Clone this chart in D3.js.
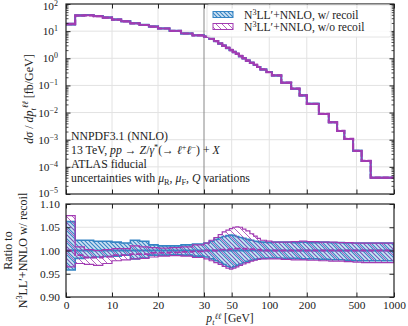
<!DOCTYPE html>
<html>
<head>
<meta charset="utf-8">
<script src="https://cdn.jsdelivr.net/npm/d3@7"></script>
<style>
  body { margin: 0; background: #fff; }
  svg text { font-family: "Liberation Serif", "DejaVu Serif", serif; fill: #222; }
</style>
</head>
<body>
<svg id="chart" width="408" height="326"></svg>
<script>
// bin edges in pT (GeV); the last bin is cut at 1000
const edges = [0, 2, 4, 6, 8, 10, 12, 14, 16, 18, 20, 22.5, 25, 27.5, 30, 33, 36, 39, 42, 45,
  48, 51, 54, 57, 61, 65, 70, 75, 80, 85, 95, 105, 125, 150, 175, 200, 250, 300, 350, 400,
  470, 550, 650, 1000];

// dsigma/dpT, w/ recoil (fb/GeV)
const xsecRecoil = [18, 38, 39, 36, 32, 27, 23, 19.5, 17, 14.8, 12.6, 10.3, 8.2, 7.0,
  6.3, 5.2, 4.3, 3.5, 2.9, 2.4, 2.0, 1.7, 1.45, 1.2, 1.0, 0.82, 0.68, 0.57, 0.48, 0.39,
  0.31, 0.234, 0.126, 0.076, 0.043, 0.021, 0.0089, 0.0044, 0.0021, 0.00107, 3.9e-4,
  1.66e-4, 4e-5];

// ratio to w/ recoil: band of w/ recoil
const recoilLo = [0.958, 0.983, 0.985, 0.986, 0.987, 0.988, 0.990, 0.982, 0.984, 0.990,
  0.990, 0.991, 0.990, 0.988, 0.986, 0.982, 0.978, 0.974, 0.970, 0.966, 0.963, 0.965,
  0.968, 0.971, 0.974, 0.977, 0.979, 0.981, 0.982, 0.983, 0.984, 0.984, 0.983, 0.983,
  0.982, 0.982, 0.981, 0.980, 0.980, 0.979, 0.978, 0.978, 0.978];
const recoilHi = [1.062, 1.022, 1.022, 1.020, 1.020, 1.018, 1.016, 1.022, 1.020, 1.012,
  1.010, 1.010, 1.012, 1.014, 1.016, 1.020, 1.024, 1.028, 1.030, 1.032, 1.033, 1.032,
  1.030, 1.028, 1.026, 1.024, 1.022, 1.020, 1.019, 1.018, 1.017, 1.018, 1.018, 1.017,
  1.018, 1.017, 1.018, 1.017, 1.017, 1.016, 1.016, 1.016, 1.016];

// ratio to w/ recoil: w/o recoil central value and band
const noRecoilMid = [1.000, 0.990, 0.985, 0.985, 0.987, 0.990, 0.990, 0.992, 0.992, 0.995,
  0.995, 0.996, 0.997, 0.998, 1.000, 1.000, 1.000, 1.002, 1.002, 1.002, 1.003, 1.004,
  1.004, 1.004, 1.004, 1.003, 1.003, 1.002, 1.002, 1.000, 1.000, 1.000, 1.000, 1.000,
  1.000, 1.000, 1.000, 1.000, 1.000, 1.000, 1.000, 1.000, 1.000];
const noRecoilLo = [0.965, 0.972, 0.970, 0.968, 0.972, 0.978, 0.980, 0.982, 0.983, 0.986,
  0.988, 0.989, 0.988, 0.985, 0.982, 0.978, 0.974, 0.970, 0.966, 0.962, 0.960, 0.962,
  0.965, 0.968, 0.971, 0.974, 0.977, 0.979, 0.981, 0.982, 0.982, 0.982, 0.981, 0.980,
  0.980, 0.979, 0.978, 0.977, 0.977, 0.976, 0.975, 0.974, 0.974];
const noRecoilHi = [1.075, 1.008, 1.002, 1.000, 1.002, 1.004, 1.004, 1.010, 1.008, 1.006,
  1.005, 1.006, 1.008, 1.012, 1.016, 1.022, 1.028, 1.034, 1.040, 1.044, 1.047, 1.050,
  1.051, 1.050, 1.046, 1.042, 1.036, 1.031, 1.026, 1.022, 1.020, 1.018, 1.018, 1.019,
  1.020, 1.019, 1.018, 1.018, 1.017, 1.017, 1.016, 1.016, 1.016];

const linTicks = [0, 10, 20, 30];
const logTicks = [50, 100, 200, 500, 1000];
const decades = [1e-5, 1e-4, 1e-3, 1e-2, 1e-1, 1, 10, 100];
const ratioTicks = [0.90, 0.95, 1.00, 1.05, 1.10];

const blue = '#3584c4';
const purple = '#a23bb2';
const fs = 12;     // axis labels
const afs = 11.8;  // annotations
const lfs = 11.6;  // legend
const tfs = 11.4;  // tick labels
const font = '"Liberation Serif", "DejaVu Serif", serif';

const left = 66, right = 394;
const top1 = 4, bot1 = 194, top2 = 204, bot2 = 297;

const svg = d3.select('#chart');

// x: linear up to 30 GeV, logarithmic above
const xLin = d3.scaleLinear().domain([0, 30]).range([left, 204]);
const xLog = d3.scaleLog().domain([30, 1000]).range([204, right]);
const x = v => v <= 30 ? xLin(v) : xLog(v);

const yTop = d3.scaleLog().domain([1e-5, 1e2]).range([bot1, top1]);
const yBot = d3.scaleLinear().domain([0.9, 1.1]).range([bot2, top2]);

const bins = edges.slice(0, -1).map((e, i) => ({
  x0: e, x1: edges[i + 1], v: xsecRecoil[i],
  rLo: recoilLo[i], rHi: recoilHi[i],
  nMid: noRecoilMid[i], nLo: noRecoilLo[i], nHi: noRecoilHi[i]
}));

// step helper
const stepPts = (f) => bins.flatMap(b => [{x: b.x0, ...f(b)}, {x: b.x1, ...f(b)}]);

// hatch patterns
const defs = svg.append('defs');
const pb = defs.append('pattern').attr('id', 'hatchBlue')
  .attr('patternUnits', 'userSpaceOnUse').attr('width', 4).attr('height', 4);
pb.append('rect').attr('width', 4).attr('height', 4).attr('fill', '#cfe2f3');
pb.append('path').attr('d', 'M-1,-1L5,5M-1,3L1,5M3,-1L5,1')
  .attr('stroke', blue).attr('stroke-width', 1.1);
const pp = defs.append('pattern').attr('id', 'hatchPurple')
  .attr('patternUnits', 'userSpaceOnUse').attr('width', 6).attr('height', 6);
pp.append('path').attr('d', 'M-1,-1L7,7M-1,5L1,7M5,-1L7,1')
  .attr('stroke', purple).attr('stroke-width', 0.8);

defs.append('clipPath').attr('id', 'clipTop').append('rect')
  .attr('x', left).attr('y', top1).attr('width', right - left).attr('height', bot1 - top1);
defs.append('clipPath').attr('id', 'clipBot').append('rect')
  .attr('x', left).attr('y', top2).attr('width', right - left).attr('height', bot2 - top2);

// grid lines
function grid(g, yScale, yVals, y0, y1) {
  g.selectAll('.vg').data([10, 20, 50, 100, 200, 500]).join('line')
    .attr('x1', d => x(d)).attr('x2', d => x(d)).attr('y1', y0).attr('y2', y1)
    .attr('stroke', '#e2e2e2').attr('stroke-width', 1);
  g.selectAll('.hg').data(yVals).join('line')
    .attr('x1', left).attr('x2', right).attr('y1', d => yScale(d)).attr('y2', d => yScale(d))
    .attr('stroke', '#e2e2e2').attr('stroke-width', 1);
  g.append('line').attr('x1', x(30)).attr('x2', x(30)).attr('y1', y0).attr('y2', y1)
    .attr('stroke', '#888').attr('stroke-width', 1);
}
grid(svg.append('g'), yTop, [1e-4, 1e-3, 1e-2, 1e-1, 1, 10], top1, bot1);
grid(svg.append('g'), yBot, [0.95, 1.0, 1.05], top2, bot2);

// ---------- upper panel ----------
const gTop = svg.append('g').attr('clip-path', 'url(#clipTop)');
const areaTop = d3.area().x(d => x(d.x)).y0(d => yTop(d.lo)).y1(d => yTop(d.hi));
const lineTop = d3.line().x(d => x(d.x)).y(d => yTop(d.y));

gTop.append('path').datum(stepPts(b => ({lo: b.v * b.rLo, hi: b.v * b.rHi})))
  .attr('d', areaTop).attr('fill', 'url(#hatchBlue)').attr('stroke', blue).attr('stroke-width', 1.6);
gTop.append('path').datum(stepPts(b => ({y: b.v})))
  .attr('d', lineTop).attr('fill', 'none').attr('stroke', blue).attr('stroke-width', 2);
gTop.append('path').datum(stepPts(b => ({lo: b.v * b.nLo, hi: b.v * b.nHi})))
  .attr('d', areaTop).attr('fill', 'url(#hatchPurple)').attr('stroke', purple).attr('stroke-width', 1.4);
gTop.append('path').datum(stepPts(b => ({y: b.v * b.nMid})))
  .attr('d', lineTop).attr('fill', 'none').attr('stroke', purple).attr('stroke-width', 2.2)
  .attr('stroke-dasharray', '6,2');

// ---------- lower panel ----------
const gBot = svg.append('g').attr('clip-path', 'url(#clipBot)');
const areaBot = d3.area().x(d => x(d.x)).y0(d => yBot(d.lo)).y1(d => yBot(d.hi));
const lineBot = d3.line().x(d => x(d.x)).y(d => yBot(d.y));

gBot.append('path').datum(stepPts(b => ({lo: b.rLo, hi: b.rHi})))
  .attr('d', areaBot).attr('fill', 'url(#hatchBlue)').attr('stroke', blue).attr('stroke-width', 1.6);
gBot.append('path').datum(stepPts(b => ({y: 1})))
  .attr('d', lineBot).attr('fill', 'none').attr('stroke', blue).attr('stroke-width', 1.8);
gBot.append('path').datum(stepPts(b => ({lo: b.nLo, hi: b.nHi})))
  .attr('d', areaBot).attr('fill', 'url(#hatchPurple)').attr('stroke', purple).attr('stroke-width', 1.2);
gBot.append('path').datum(stepPts(b => ({y: b.nMid})))
  .attr('d', lineBot).attr('fill', 'none').attr('stroke', purple).attr('stroke-width', 1.8)
  .attr('stroke-dasharray', '6,2');

// ---------- axes ----------
function xTicks(yPos, dir, withLabels) {
  const mk = dir === 'top' ? d3.axisTop : d3.axisBottom;
  [[xLin, linTicks], [xLog, logTicks]].forEach(([sc, tv]) => {
    const g = svg.append('g').attr('transform', `translate(0,${yPos})`)
      .call(mk(sc).tickValues(tv).tickSize(-4.5).tickPadding(4)
        .tickFormat(withLabels ? d3.format('d') : ''));
    g.select('.domain').remove();
    g.selectAll('line').attr('stroke', '#222').attr('stroke-width', 1);
    g.selectAll('text').attr('font-size', tfs).attr('font-family', font).attr('fill', '#222');
  });
}
xTicks(top1, 'top', false);
xTicks(bot1, 'bottom', false);
xTicks(top2, 'top', false);
xTicks(bot2, 'bottom', true);

const minors = [];
decades.slice(0, -1).forEach(d => { for (let k = 2; k <= 9; k++) minors.push(d * k); });

function yAxis(scale, major, minor, labels, pad) {
  [[d3.axisLeft, left], [d3.axisRight, right]].forEach(([mk, xp], side) => {
    const g = svg.append('g').attr('transform', `translate(${xp},0)`)
      .call(mk(scale).tickValues(major).tickSize(-4.5).tickPadding(pad)
        .tickFormat(side === 0 && labels ? labels : ''));
    g.select('.domain').remove();
    g.selectAll('line').attr('stroke', '#222').attr('stroke-width', 1);
    g.selectAll('text').attr('font-size', tfs).attr('font-family', font).attr('fill', '#222');
    if (minor.length) {
      const m = svg.append('g').attr('transform', `translate(${xp},0)`)
        .call(mk(scale).tickValues(minor).tickSize(-2.5).tickFormat(''));
      m.select('.domain').remove();
      m.selectAll('line').attr('stroke', '#222').attr('stroke-width', 0.8);
    }
  });
}
yAxis(yTop, decades, minors, null, 6);
yAxis(yBot, ratioTicks, [], d3.format('.2f'), 6);

// powers of ten labels
svg.append('g').selectAll('text').data(decades).join('text')
  .attr('x', left - 8).attr('y', d => Math.min(Math.max(yTop(d) + 4, 10), 196.5))
  .attr('text-anchor', 'end')
  .attr('font-size', tfs)
  .each(function (d) {
    const t = d3.select(this);
    t.append('tspan').text('10');
    t.append('tspan').text(String(Math.round(Math.log10(d))).replace('-', '\u2212'))
      .attr('dy', -4).attr('font-size', tfs * 0.7);
  });

// frames
[[top1, bot1], [top2, bot2]].forEach(([a, b]) => {
  svg.append('rect').attr('x', left).attr('y', a).attr('width', right - left).attr('height', b - a)
    .attr('fill', 'none').attr('stroke', '#222').attr('stroke-width', 1.2);
});

// rich text helper: parts are [string, flags]
function rich(t, parts, size, supShift = 0.4) {
  let off = 0;
  parts.forEach(([s, fl = '']) => {
    const target = fl.includes('sup') ? -supShift * size : fl.includes('sub') ? 0.25 * size : 0;
    const ts = t.append('tspan').text(s).attr('dy', target - off);
    off = target;
    if (target !== 0) ts.attr('font-size', size * 0.7);
    if (fl.includes('i')) ts.attr('font-style', 'italic');
  });
  return t;
}

// annotations
const ann = [
  [['NNPDF3.1 (NNLO)']],
  [['13 TeV, '], ['pp', 'i'], [' \u2192 '], ['Z', 'i'], ['/'], ['\u03b3', 'i'], ['*', 'sup'],
   ['(\u2192 '], ['\u2113', 'i'], ['+', 'sup'], ['\u2113', 'i'], ['\u2212', 'sup'], [') + '], ['X', 'i']],
  [['ATLAS fiducial']],
  [['uncertainties with '], ['\u03bc', 'i'], ['R', 'sub'], [', '], ['\u03bc', 'i'], ['F', 'sub'],
   [', '], ['Q', 'i'], [' variations']]
];
const annY = [139.5, 154, 168, 182];
ann.forEach((parts, i) => {
  rich(svg.append('text').attr('x', 71).attr('y', annY[i]).attr('font-size', afs), parts, afs, 0.3);
});

// legend
const lg = svg.append('g');
lg.append('rect').attr('x', 207).attr('y', 5).attr('width', 184).attr('height', 32).attr('rx', 2)
  .attr('fill', '#fff').attr('fill-opacity', 0.85).attr('stroke', '#e4e4e4');
const legItems = [
  {fill: 'url(#hatchBlue)', stroke: blue, label: ', w/ recoil'},
  {fill: 'url(#hatchPurple)', stroke: purple, label: ', w/o recoil'}
];
legItems.forEach((d, i) => {
  const cy = 14.5 + i * 12;
  lg.append('rect').attr('x', 213).attr('y', cy - 3).attr('width', 20).attr('height', 6)
    .attr('fill', d.fill).attr('stroke', d.stroke).attr('stroke-width', 1);
  rich(lg.append('text').attr('x', 244).attr('y', cy + 4).attr('font-size', lfs),
    [['N'], ['3', 'sup'], ['LL\u2032+NNLO' + d.label]], lfs, 0.3);
});

// axis labels
rich(svg.append('text').attr('text-anchor', 'middle')
  .attr('transform', `translate(33,${(top1 + bot1) / 2}) rotate(-90)`).attr('font-size', fs),
  [['d\u03c3', 'i'], [' / '], ['dp', 'i'], ['t', 'sub i'], ['\u2113\u2113', 'sup i'], [' [fb/GeV]']], fs);

svg.append('text').attr('text-anchor', 'middle')
  .attr('transform', `translate(12,${(top2 + bot2) / 2}) rotate(-90)`).attr('font-size', fs)
  .text('Ratio to');
rich(svg.append('text').attr('text-anchor', 'middle')
  .attr('transform', `translate(27,${(top2 + bot2) / 2}) rotate(-90)`).attr('font-size', fs),
  [['N'], ['3', 'sup'], ['LL\u2032+NNLO w/ recoil']], fs);

rich(svg.append('text').attr('text-anchor', 'middle').attr('x', (left + right) / 2).attr('y', 322)
  .attr('font-size', 11.6),
  [['p', 'i'], ['t', 'sub i'], ['\u2113\u2113', 'sup i'], [' [GeV]']], 11.6, 0.28);
</script>
</body>
</html>
